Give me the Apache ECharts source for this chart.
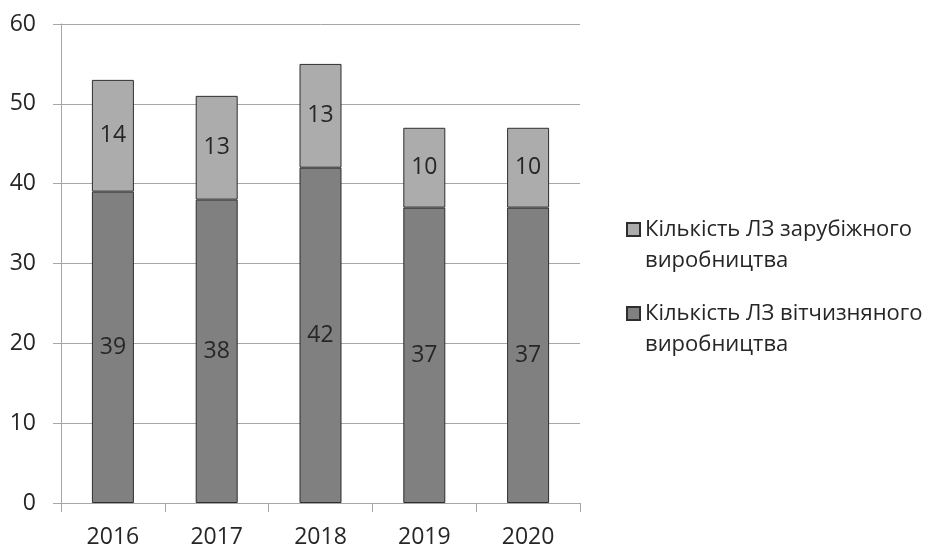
<!DOCTYPE html>
<html>
<head>
<meta charset="utf-8">
<script src="https://cdn.jsdelivr.net/npm/echarts@6/dist/echarts.min.js"></script>
<style>
  html, body { margin: 0; padding: 0; background: #fff; }
  #chart { width: 932px; height: 549px; }
</style>
</head>
<body>
<div id="chart"></div>
<script>
// Number of medicines by year, split by origin
const years = ['2016', '2017', '2018', '2019', '2020'];
const domestic = [39, 38, 42, 37, 37];
const foreign = [14, 13, 13, 10, 10];
const nameForeign = 'Кількість ЛЗ зарубіжного\nвиробництва';
const nameDomestic = 'Кількість ЛЗ вітчизняного\nвиробництва';

const FONT = '"Open Sans", sans-serif';
const TEXT = '#262626';
const FS = 23;

const chart = echarts.init(document.getElementById('chart'), null, { renderer: 'canvas' });

const barLabel = {
  show: true,
  position: 'inside',
  color: TEXT,
  fontFamily: FONT,
  fontSize: FS
};

chart.setOption({
  animation: false,
  backgroundColor: '#ffffff',
  grid: { left: 61, right: 352, top: 24, bottom: 45, containLabel: false },
  legend: {
    orient: 'vertical',
    left: 621,
    top: 178,
    itemWidth: 13,
    itemHeight: 13,
    itemGap: -9,
    icon: 'rect',
    data: [nameForeign, nameDomestic],
    // a blank leading line keeps the marker level with the first text line
    formatter: function (name) { return ' \n' + name; },
    textStyle: {
      fontFamily: FONT,
      fontSize: 22,
      color: TEXT,
      lineHeight: 31
    }
  },
  xAxis: {
    type: 'category',
    data: years,
    axisLine: { lineStyle: { color: '#a6a6a6', width: 1 } },
    axisTick: { show: true, length: 9, lineStyle: { color: '#a6a6a6' } },
    axisLabel: { color: TEXT, fontFamily: FONT, fontSize: FS, margin: 23 }
  },
  yAxis: {
    type: 'value',
    min: 0,
    max: 60,
    interval: 10,
    axisLine: { show: true, lineStyle: { color: '#a6a6a6', width: 1 } },
    axisTick: { show: true, length: 8, lineStyle: { color: '#a6a6a6' } },
    splitLine: { lineStyle: { color: '#a6a6a6', width: 1 } },
    axisLabel: { color: TEXT, fontFamily: FONT, fontSize: FS, margin: 25 }
  },
  series: [
    {
      name: nameDomestic,
      type: 'bar',
      stack: 'total',
      data: domestic,
      barWidth: 42,
      itemStyle: { color: '#808080', borderColor: '#2e2e2e', borderWidth: 1 },
      label: barLabel
    },
    {
      name: nameForeign,
      type: 'bar',
      stack: 'total',
      data: foreign,
      barWidth: 42,
      itemStyle: { color: '#acacac', borderColor: '#2e2e2e', borderWidth: 1 },
      label: barLabel
    }
  ]
});
</script>
</body>
</html>
